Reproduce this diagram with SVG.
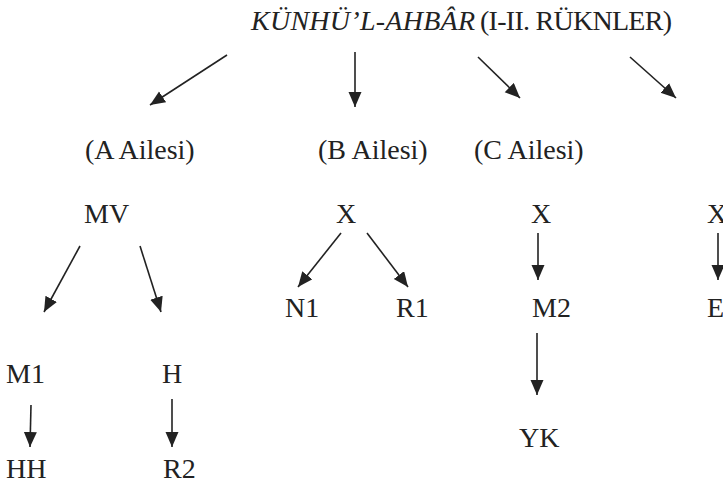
<svg xmlns="http://www.w3.org/2000/svg" width="723" height="484" viewBox="0 0 723 484">
<style>
.t{font-family:"Liberation Serif","Times New Roman",serif;font-size:28px;fill:#222;}
.c line{stroke:#222;stroke-width:1.6;marker-end:url(#ah);}
</style>
<defs>
<marker id="ah" markerUnits="userSpaceOnUse" markerWidth="16" markerHeight="14" refX="15" refY="6.5" orient="auto">
<path d="M0,0 L15,6.5 L0,13 z" fill="#222"/>
</marker>
</defs>
<rect width="723" height="484" fill="#fff"/>
<g id="root"><text class="t" y="30"><tspan x="251" font-style="italic" textLength="224" lengthAdjust="spacing">KÜNHÜ’L-AHBÂR</tspan><tspan x="480" textLength="192" lengthAdjust="spacing">(I-II. RÜKNLER)</tspan></text></g>
<g id="a-fam"><text class="t" x="85" y="159">(A Ailesi)</text></g>
<g id="b-fam"><text class="t" x="318" y="159">(B Ailesi)</text></g>
<g id="c-fam"><text class="t" x="474" y="159">(C Ailesi)</text></g>
<g id="mv"><text class="t" x="84" y="223">MV</text></g>
<g id="xb"><text class="t" x="336" y="223">X</text></g>
<g id="xc"><text class="t" x="531" y="223">X</text></g>
<g id="xd"><text class="t" x="707" y="223">X</text></g>
<g id="n1"><text class="t" x="285" y="317">N1</text></g>
<g id="r1"><text class="t" x="396" y="317">R1</text></g>
<g id="m2"><text class="t" x="532" y="317">M2</text></g>
<g id="e"><text class="t" x="707" y="317">E</text></g>
<g id="m1"><text class="t" x="6" y="383">M1</text></g>
<g id="h"><text class="t" x="162" y="383">H</text></g>
<g id="yk"><text class="t" x="519" y="447">YK</text></g>
<g id="hh"><text class="t" x="6" y="478">HH</text></g>
<g id="r2"><text class="t" x="163" y="478">R2</text></g>
<g id="connectors" class="c">
<line x1="227" y1="55" x2="150" y2="105"/>
<line x1="355" y1="52" x2="355" y2="107"/>
<line x1="478" y1="57" x2="520" y2="98"/>
<line x1="630" y1="57" x2="676" y2="98"/>
<line x1="80" y1="246" x2="44" y2="312"/>
<line x1="140" y1="246" x2="161" y2="312"/>
<line x1="341" y1="233" x2="298" y2="287"/>
<line x1="367" y1="233" x2="408" y2="287"/>
<line x1="538" y1="233" x2="538" y2="280"/>
<line x1="718" y1="233" x2="718" y2="280"/>
<line x1="537" y1="333" x2="537" y2="395"/>
<line x1="31" y1="405" x2="30" y2="447"/>
<line x1="172" y1="399" x2="172" y2="447"/>
</g>
</svg>
